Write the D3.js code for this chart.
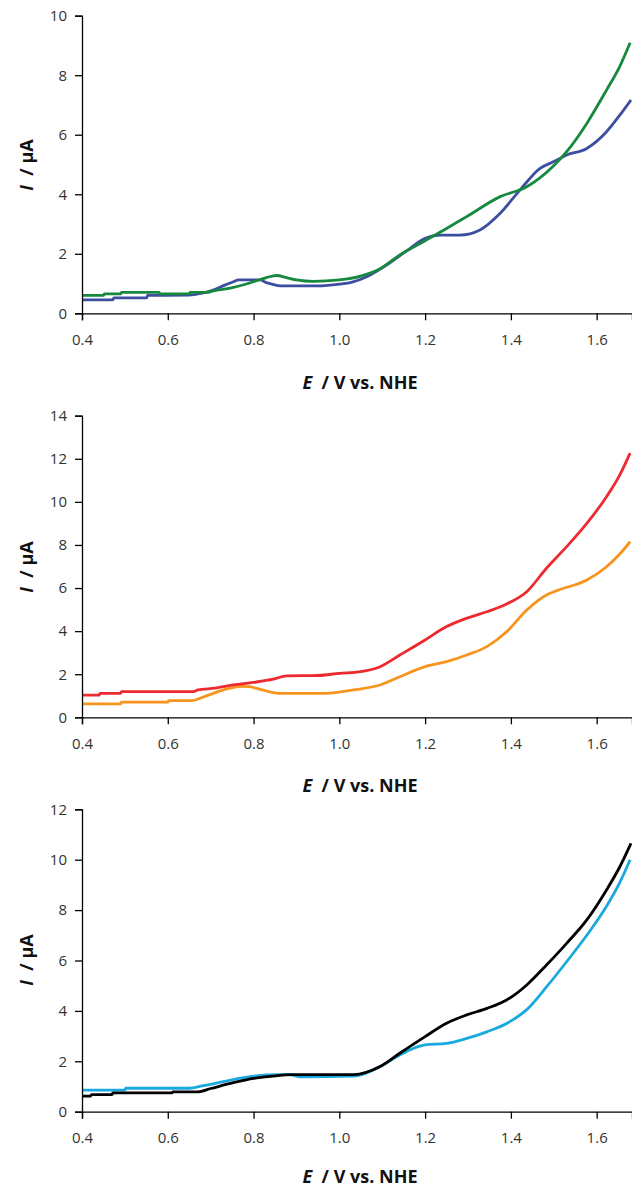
<!DOCTYPE html>
<html><head><meta charset="utf-8">
<script src="https://cdn.jsdelivr.net/npm/d3@7"></script>
<style>
html,body{margin:0;padding:0;background:#fff;}
svg{display:block;}
</style></head>
<body>
<script>
// ---- Data (E in V vs. NHE, I in µA) ----
const xTicks = [0.4, 0.6, 0.8, 1.0, 1.2, 1.4, 1.6];
const xDomain = [0.4, 1.6824];

const p1Ticks = [0, 2, 4, 6, 8, 10];
const p2Ticks = [0, 2, 4, 6, 8, 10, 12, 14];
const p3Ticks = [0, 2, 4, 6, 8, 10, 12];

const blueSeries = [[0.40,0.45],[0.472,0.45],[0.474,0.52],[0.551,0.52],[0.553,0.60],[0.65,0.61],[0.68,0.68],[0.706,0.78],[0.73,0.93],[0.753,1.06],[0.765,1.12],[0.815,1.12],[0.83,1.03],[0.845,0.97],[0.862,0.92],[0.95,0.92],[1.0,0.98],[1.03,1.05],[1.064,1.23],[1.11,1.62],[1.157,2.1],[1.2,2.52],[1.235,2.63],[1.281,2.63],[1.328,2.8],[1.375,3.36],[1.421,4.14],[1.468,4.87],[1.499,5.09],[1.53,5.32],[1.577,5.54],[1.623,6.1],[1.654,6.66],[1.68,7.17]];
const greenSeries = [[0.40,0.60],[0.45,0.60],[0.452,0.65],[0.49,0.65],[0.492,0.70],[0.58,0.70],[0.582,0.65],[0.65,0.65],[0.652,0.70],[0.69,0.70],[0.706,0.75],[0.753,0.87],[0.80,1.06],[0.83,1.2],[0.854,1.27],[0.877,1.2],[0.90,1.12],[0.94,1.07],[1.0,1.12],[1.05,1.25],[1.095,1.5],[1.141,1.96],[1.2,2.44],[1.25,2.85],[1.297,3.25],[1.375,3.92],[1.437,4.25],[1.498,4.93],[1.53,5.43],[1.577,6.38],[1.623,7.5],[1.654,8.3],[1.678,9.09]];

const redSeries = [[0.40,1.03],[0.44,1.03],[0.442,1.11],[0.49,1.11],[0.492,1.19],[0.66,1.19],[0.67,1.27],[0.71,1.35],[0.753,1.5],[0.80,1.62],[0.846,1.77],[0.877,1.92],[0.95,1.94],[1.0,2.04],[1.05,2.12],[1.095,2.35],[1.141,2.89],[1.2,3.59],[1.25,4.21],[1.297,4.6],[1.344,4.9],[1.39,5.26],[1.437,5.83],[1.483,6.92],[1.53,7.92],[1.577,9.0],[1.623,10.24],[1.654,11.25],[1.678,12.26]];
const orangeSeries = [[0.40,0.62],[0.49,0.62],[0.492,0.70],[0.60,0.70],[0.602,0.77],[0.655,0.77],[0.68,0.92],[0.73,1.27],[0.77,1.44],[0.79,1.42],[0.82,1.27],[0.846,1.15],[0.87,1.11],[0.97,1.11],[1.033,1.27],[1.095,1.5],[1.141,1.88],[1.2,2.35],[1.25,2.58],[1.297,2.89],[1.344,3.28],[1.39,3.97],[1.437,4.98],[1.483,5.68],[1.507,5.88],[1.577,6.37],[1.623,6.99],[1.654,7.58],[1.678,8.15]];

const blackSeries = [[0.40,0.62],[0.42,0.62],[0.422,0.68],[0.47,0.68],[0.472,0.75],[0.61,0.75],[0.612,0.79],[0.67,0.79],[0.70,0.92],[0.753,1.15],[0.80,1.32],[0.846,1.41],[0.89,1.47],[1.033,1.47],[1.095,1.79],[1.141,2.32],[1.2,2.98],[1.25,3.51],[1.297,3.84],[1.344,4.1],[1.39,4.43],[1.437,5.03],[1.483,5.82],[1.53,6.68],[1.577,7.61],[1.623,8.8],[1.654,9.72],[1.68,10.65]];
const cyanSeries = [[0.40,0.86],[0.50,0.86],[0.502,0.93],[0.65,0.93],[0.68,1.02],[0.73,1.19],[0.78,1.36],[0.83,1.46],[0.88,1.48],[0.91,1.38],[1.033,1.41],[1.095,1.79],[1.141,2.25],[1.172,2.51],[1.2,2.65],[1.25,2.71],[1.297,2.91],[1.344,3.17],[1.39,3.5],[1.437,4.05],[1.483,4.95],[1.53,5.95],[1.577,7.0],[1.623,8.15],[1.654,9.1],[1.678,10.0]];

// ---- Layout ----
const W = 632, H = 1190;
const svg = d3.select("body").append("svg").attr("width", W).attr("height", H);
const x = d3.scaleLinear().domain(xDomain).range([82, 632]);

const panels = [
  {ticks: p1Ticks, yMax: 10, y0: 313.3, y1: 15.7, xlabY: 382, ylabY: 165, series: [[blueSeries, "#3d4ea0"], [greenSeries, "#16893f"]]},
  {ticks: p2Ticks, yMax: 14, y0: 717.3, y1: 415.7, xlabY: 785, ylabY: 567, series: [[orangeSeries, "#f7941d"], [redSeries, "#ed2a2f"]]},
  {ticks: p3Ticks, yMax: 12, y0: 1111.7, y1: 809.3, xlabY: 1176, ylabY: 960, series: [[cyanSeries, "#1aa9de"], [blackSeries, "#000000"]]}
];

const font = "'Open Sans', sans-serif";

panels.forEach(p => {
  const y = d3.scaleLinear().domain([0, p.yMax]).range([p.y0, p.y1]);
  const g = svg.append("g");

  const line = d3.line().x(d => x(d[0])).y(d => y(d[1])).curve(d3.curveMonotoneX);
  p.series.forEach(([data, color]) => {
    g.append("path").datum(data).attr("d", line)
      .attr("fill", "none").attr("stroke", color).attr("stroke-width", 2.8)
      .attr("stroke-linejoin", "round");
  });

  const yAxis = g.append("g").attr("transform", `translate(${x(0.4)},0)`)
    .call(d3.axisLeft(y).tickValues(p.ticks).tickSize(7).tickPadding(8).tickFormat(d3.format("d")));
  const xAxis = g.append("g").attr("transform", `translate(0,${p.y0})`)
    .call(d3.axisBottom(x).tickValues(xTicks).tickSize(7).tickPadding(14).tickFormat(d3.format(".1f")));
  [yAxis, xAxis].forEach(a => {
    a.select(".domain").attr("stroke", "#000").attr("stroke-width", 1.3);
    a.selectAll(".tick line").attr("stroke", "#000").attr("stroke-width", 1.3);
    a.selectAll(".tick text").attr("font-family", font).attr("font-size", 15).attr("fill", "#333");
  });

  // x-axis label
  const xl = g.append("text").attr("x", 360).attr("y", p.xlabY).attr("text-anchor", "middle")
    .attr("dominant-baseline", "central")
    .attr("font-family", font).attr("font-size", 18).attr("font-weight", "bold").attr("fill", "#111")
    .attr("xml:space", "preserve");
  xl.append("tspan").attr("font-style", "italic").text("E");
  xl.append("tspan").text("  / V vs. NHE");

  // y-axis label
  const yl = g.append("text").attr("transform", `translate(26,${p.ylabY}) rotate(-90)`)
    .attr("text-anchor", "middle").attr("dominant-baseline", "central")
    .attr("font-family", font).attr("font-size", 18).attr("font-weight", "bold").attr("fill", "#111")
    .attr("xml:space", "preserve");
  yl.append("tspan").attr("font-style", "italic").text("I");
  yl.append("tspan").text("  / µA");
});
</script>
</body></html>
